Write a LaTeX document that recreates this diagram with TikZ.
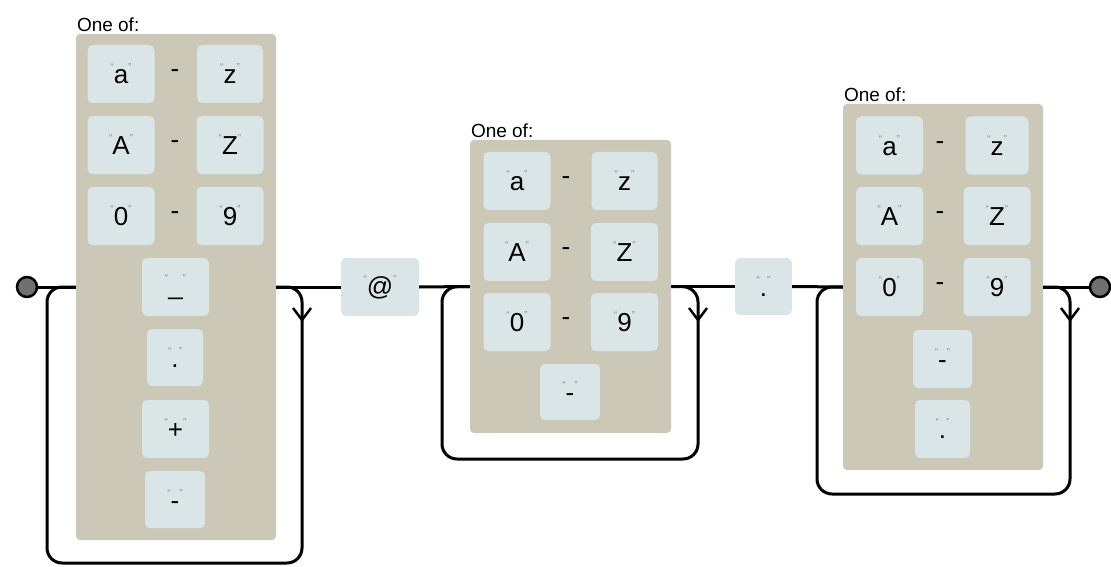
\documentclass[tikz,border=0pt]{standalone}
\usepackage{fontspec}
\setmainfont{Liberation Sans}
\usetikzlibrary{calc}
\definecolor{grpgray}{HTML}{CBC8B8}
\definecolor{itmblue}{HTML}{DAE5E7}
\definecolor{qgray}{HTML}{8C8C8C}
\definecolor{dotgray}{HTML}{707070}
\newcommand{\qmk}[1]{\raisebox{0.95ex}{\color{qgray}\fontsize{10}{10}\selectfont #1}}
\newcommand{\chq}[1]{\qmk{“}#1\qmk{”}}
\tikzset{
  grp/.style={fill=grpgray, rounded corners=4pt, inner sep=0pt},
  itm/.style={fill=itmblue, rounded corners=5pt, inner sep=0pt, minimum height=58pt, font=\fontsize{26}{26}\selectfont},
  rng/.style={font=\fontsize{26}{26}\selectfont, inner sep=0pt},
  lbl/.style={font=\fontsize{19}{19}\selectfont, inner sep=1pt, anchor=south west},
  wire/.style={line width=3pt, black},
  loopw/.style={line width=3pt, black, rounded corners=15pt},
  tipv/.style={line width=2.5pt, black, line join=miter},
  term/.style={circle, fill=dotgray, draw=black, line width=2.5pt, minimum size=20pt, inner sep=0pt}
}
\begin{document}
\begin{tikzpicture}[x=1pt,y=-1pt]
\useasboundingbox (0,0) rectangle (1111,567);
% ---------- group 1 ----------
\node[grp, minimum width=200pt, minimum height=506pt] (g1) at (176,287) {};
\node[lbl] (g1t) at ($(g1.north west)+(0,-1)$) {One of:};
\node[itm, minimum width=67pt] (g1a) at (121,74) {\chq{a}};
\node[rng] (g1d1) at (175,74) {-};
\node[itm, minimum width=66pt] (g1b) at (230,74) {\chq{z}};
\node[itm, minimum width=67pt] (g1c) at (121,145) {\chq{A}};
\node[rng] (g1d2) at (175,145) {-};
\node[itm, minimum width=67pt] (g1d) at (230,145) {\chq{Z}};
\node[itm, minimum width=67pt] (g1e) at (121,216) {\chq{0}};
\node[rng] (g1d3) at (175,216) {-};
\node[itm, minimum width=67pt] (g1f) at (230,216) {\chq{9}};
\node[itm, minimum width=67pt] (g1g) at (175.5,287) {\chq{\_}};
\node[itm, minimum width=56pt, minimum height=57pt] (g1h) at (175,357.5) {\chq{.}};
\node[itm, minimum width=67pt] (g1i) at (175.5,429) {\chq{+}};
\node[itm, minimum width=60pt, minimum height=57pt] (g1j) at (175,499.5) {\chq{-}};
% ---------- @ ----------
\node[itm, minimum width=78pt] (at) at (380,287) {\chq{@}};
% ---------- group 2 ----------
\node[grp, minimum width=201pt, minimum height=293pt] (g2) at (570.5,286.5) {};
\node[lbl] (g2t) at ($(g2.north west)+(0,-1)$) {One of:};
\node[itm, minimum width=67pt] (g2a) at (517,181) {\chq{a}};
\node[rng] (g2d1) at (566,181) {-};
\node[itm, minimum width=66pt] (g2b) at (624.5,181) {\chq{z}};
\node[itm, minimum width=67pt] (g2c) at (517,252) {\chq{A}};
\node[rng] (g2d2) at (566,252) {-};
\node[itm, minimum width=67pt] (g2d) at (624.5,252) {\chq{Z}};
\node[itm, minimum width=67pt] (g2e) at (517,322) {\chq{0}};
\node[rng] (g2d3) at (566,322) {-};
\node[itm, minimum width=67pt] (g2f) at (624.5,322) {\chq{9}};
\node[itm, minimum width=60pt, minimum height=56pt] (g2g) at (570,392) {\chq{-}};
% ---------- dot ----------
\node[itm, minimum width=57pt, minimum height=57pt] (dt) at (763.5,286.5) {\chq{.}};
% ---------- group 3 ----------
\node[grp, minimum width=200pt, minimum height=366pt] (g3) at (943,287) {};
\node[lbl] (g3t) at ($(g3.north west)+(0,-1)$) {One of:};
\node[itm, minimum width=67pt] (g3a) at (889.5,145.5) {\chq{a}};
\node[rng] (g3d1) at (940,145.5) {-};
\node[itm, minimum width=63pt] (g3b) at (997,145.5) {\chq{z}};
\node[itm, minimum width=67pt] (g3c) at (889.5,216) {\chq{A}};
\node[rng] (g3d2) at (940,216) {-};
\node[itm, minimum width=67pt] (g3d) at (997,216) {\chq{Z}};
\node[itm, minimum width=67pt] (g3e) at (889.5,287) {\chq{0}};
\node[rng] (g3d3) at (940,287) {-};
\node[itm, minimum width=67pt] (g3f) at (997,287) {\chq{9}};
\node[itm, minimum width=59pt] (g3g) at (942.5,359) {\chq{-}};
\node[itm, minimum width=55pt] (g3h) at (942.5,429) {\chq{.}};
% ---------- terminals ----------
\node[term] (st) at (27,287) {};
\node[term] (en) at (1100,287) {};
% ---------- main wire ----------
\draw[wire] (st) -- (g1.west);
\draw[wire] (g1.east) -- (at.west);
\draw[wire] (at.east) -- (g2.west);
\draw[wire] (g2.east) -- (dt.west);
\draw[wire] (dt.east) -- (g3.west);
\draw[wire] (g3.east) -- (en);
% ---------- loops ----------
\coordinate (r1) at (302,287); \coordinate (b1) at (302,563); \coordinate (c1) at (47,563); \coordinate (l1) at (47,287);
\draw[loopw] (g1.east) -- (r1) -- (b1) -- (c1) -- (l1) -- (g1.west);
\coordinate (r2) at (698,287); \coordinate (b2) at (698,459); \coordinate (c2) at (442,459); \coordinate (l2) at (442,287);
\draw[loopw] (g2.east) -- (r2) -- (b2) -- (c2) -- (l2) -- (g2.west);
\coordinate (r3) at (1070,287); \coordinate (b3) at (1070,494); \coordinate (c3) at (817,494); \coordinate (l3) at (817,287);
\draw[loopw] (g3.east) -- (r3) -- (b3) -- (c3) -- (l3) -- (g3.west);
% ---------- arrow tips ----------
\foreach \xx/\nm in {302/a1, 698/a2, 1070/a3}{
  \coordinate (\nm) at (\xx,320);
  \draw[tipv] ($(\nm)+(-9,-12)$) -- (\nm) -- ($(\nm)+(9,-12)$);
}
\end{tikzpicture}
\end{document}
